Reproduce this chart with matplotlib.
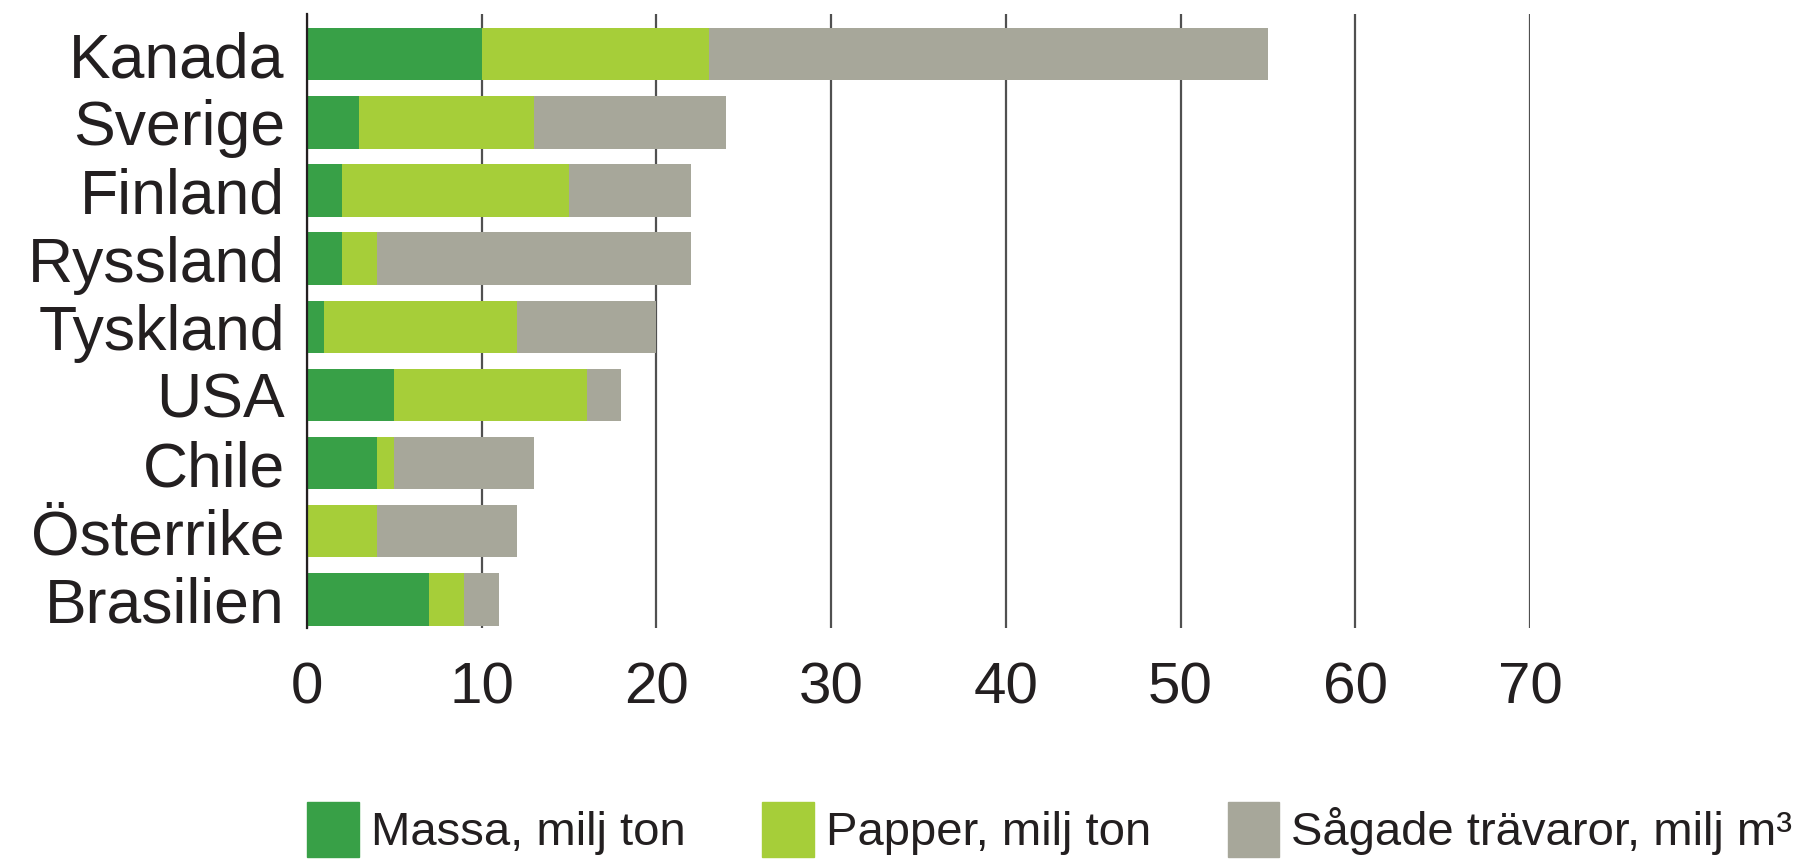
import numpy as np
import matplotlib.pyplot as plt
from matplotlib.patches import Patch

countries = ["Kanada", "Sverige", "Finland", "Ryssland", "Tyskland",
             "USA", "Chile", "Österrike", "Brasilien"]
massa = [10, 3, 2, 2, 1, 5, 4, 0, 7]
papper = [13, 10, 13, 2, 11, 11, 1, 4, 2]
sagat = [32, 11, 7, 18, 8, 2, 8, 8, 2]
ticks = [0, 10, 20, 30, 40, 50, 60, 70]

labels = ["Massa, milj ton", "Papper, milj ton", "Sågade trävaror, milj m³"]
colors = ["#38a047", "#a6ce39", "#a7a79a"]

plt.rcParams['font.family'] = ['Liberation Sans', 'DejaVu Sans']

fig = plt.figure(figsize=(17.97, 8.6), dpi=100)
ax = fig.add_axes([307 / 1797, 1 - 628 / 860, (1530 - 307) / 1797, 614 / 860])

y = np.arange(len(countries))
left = np.zeros(len(countries))
for vals, c in zip([massa, papper, sagat], colors):
    ax.barh(y, vals, left=left, height=0.77, color=c, zorder=3)
    left += np.array(vals)

ax.set_xlim(0, 70)
ax.set_ylim(8.42, -0.59)
ax.set_xticks(ticks)
ax.set_yticks(y)
ax.set_yticklabels(countries)
ax.tick_params(axis='y', length=0, pad=16, labelsize=45, labelcolor="#231f20")
ax.tick_params(axis='x', length=0, pad=24, labelsize=42, labelcolor="#231f20")

ax.grid(axis='x', color="#505050", linewidth=1.6, zorder=0)
ax.set_axisbelow(True)
for s in ['top', 'right', 'bottom']:
    ax.spines[s].set_visible(False)
ax.spines['left'].set_linewidth(1.6)
ax.spines['left'].set_color("#231f20")
ax.spines['left'].set_zorder(4)

handles = [Patch(color=c, label=l) for c, l in zip(colors, labels)]
fig.legend(handles=handles, loc='lower left', bbox_to_anchor=(307 / 1797, 1 - 857 / 860),
           borderpad=0, borderaxespad=0,
           ncol=3, frameon=False, fontsize=34, handlelength=1.1, handleheight=1.4,
           handletextpad=0.25, columnspacing=1.62, labelcolor="#231f20")

fig.savefig("out.png", dpi=100)
